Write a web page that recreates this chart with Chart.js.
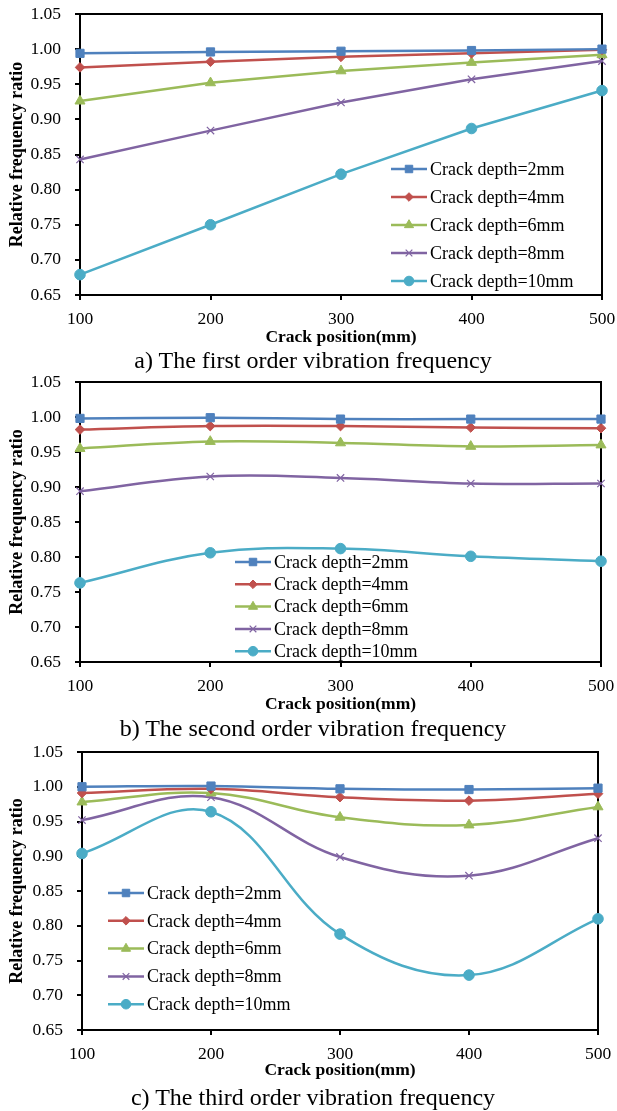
<!DOCTYPE html>
<html>
<head>
<meta charset="utf-8">
<script src="https://cdn.jsdelivr.net/npm/chart.js@4.4.1/dist/chart.umd.min.js"></script>
<style>
    body { margin: 0; background: #fff; width: 617px; height: 1111px; position: relative; overflow: hidden; font-family: 'Liberation Serif', 'Times New Roman', serif; }
    .box { position: absolute; left: 0; width: 617px; }
    .cap { position: absolute; left: 0; width: 626px; text-align: center; font-size: 24px; line-height: 1; color: #000; }
</style>
</head>
<body>
<div class="box" style="top:0px"><canvas id="chartA" width="617" height="348"></canvas></div>
<div class="cap" style="top:348px">a) The first order vibration frequency</div>
<div class="box" style="top:369px"><canvas id="chartB" width="617" height="346"></canvas></div>
<div class="cap" style="top:716px">b) The second order vibration frequency</div>
<div class="box" style="top:739px"><canvas id="chartC" width="617" height="342"></canvas></div>
<div class="cap" style="top:1085px">c) The third order vibration frequency</div>

<script>
// posiciones de la grieta (eje x) y marcas del eje y
const POSITIONS = ['100', '200', '300', '400', '500'];
const Y_TICKS = [0.65, 0.70, 0.75, 0.80, 0.85, 0.90, 0.95, 1.00, 1.05];
const DEPTHS = ['Crack depth=2mm', 'Crack depth=4mm', 'Crack depth=6mm', 'Crack depth=8mm', 'Crack depth=10mm'];

// una fila por profundidad (2, 4, 6, 8, 10 mm)
const FIRST_ORDER = [
    [0.994, 0.996, 0.997, 0.998, 1.000],
    [0.974, 0.982, 0.989, 0.994, 0.999],
    [0.926, 0.952, 0.969, 0.981, 0.992],
    [0.843, 0.884, 0.924, 0.957, 0.983],
    [0.679, 0.750, 0.822, 0.887, 0.941]
];
const SECOND_ORDER = [
    [0.998, 0.999, 0.997, 0.997, 0.997],
    [0.982, 0.987, 0.987, 0.985, 0.984],
    [0.955, 0.965, 0.963, 0.958, 0.960],
    [0.894, 0.915, 0.913, 0.905, 0.905],
    [0.763, 0.806, 0.812, 0.801, 0.794]
];
const THIRD_ORDER = [
    [1.000, 1.001, 0.997, 0.996, 0.998],
    [0.991, 0.997, 0.985, 0.980, 0.990],
    [0.978, 0.991, 0.956, 0.945, 0.971],
    [0.952, 0.985, 0.899, 0.872, 0.926],
    [0.904, 0.964, 0.788, 0.729, 0.810]
];

const COLORS = ['#4F81BD', '#C0504D', '#9BBB59', '#8064A2', '#4BACC6'];
const POINT_STYLES = ['rect', 'rectRot', 'triangle', 'crossRot', 'circle'];
const POINT_SIZES = [5.8, 4.8, 5.8, 5.2, 5.3];

const FONT = "'Liberation Serif', 'Times New Roman', serif";

// marco negro alrededor del area del grafico
const framePlugin = {
    id: 'frame',
    beforeDatasetsDraw(chart) {
        const { ctx, chartArea: a } = chart;
        ctx.save();
        ctx.strokeStyle = '#000';
        ctx.lineWidth = 2;
        ctx.strokeRect(a.left, a.top, a.right - a.left, a.bottom - a.top);
        ctx.restore();
    }
};

// leyenda dibujada dentro del area, como en Excel
const insideLegend = {
    id: 'insideLegend',
    afterDraw(chart, args, opts) {
        const ctx = chart.ctx;
        ctx.save();
        chart.data.datasets.forEach((ds, i) => {
            const y = opts.y + i * opts.gap;
            ctx.strokeStyle = ds.borderColor;
            ctx.lineWidth = 2.5;
            ctx.beginPath();
            ctx.moveTo(opts.x, y);
            ctx.lineTo(opts.x + 36, y);
            ctx.stroke();
            ctx.fillStyle = ds.pointBackgroundColor;
            ctx.strokeStyle = ds.pointBorderColor;
            ctx.lineWidth = ds.pointBorderWidth;
            Chart.helpers.drawPoint(ctx, {
                pointStyle: ds.pointStyle, radius: ds.pointRadius - 0.5,
                borderWidth: ds.pointBorderWidth, rotation: 0
            }, opts.x + 18, y);
            ctx.fillStyle = '#000';
            ctx.font = '18px ' + FONT;
            ctx.textBaseline = 'middle';
            ctx.textAlign = 'left';
            ctx.fillText(ds.label, opts.x + 39, y + 1);
        });
        ctx.restore();
    }
};

function makeChart(id, rows, cfg) {
    const datasets = rows.map((vals, i) => ({
        label: DEPTHS[i],
        data: vals,
        borderColor: COLORS[i],
        borderWidth: 2.5,
        pointStyle: POINT_STYLES[i],
        pointRadius: POINT_SIZES[i],
        pointBackgroundColor: COLORS[i],
        pointBorderColor: COLORS[i],
        pointBorderWidth: POINT_STYLES[i] === 'crossRot' ? 1.2 : 1,
        tension: cfg.smooth ? 0.38 : 0,
        clip: false
    }));

    new Chart(document.getElementById(id), {
        type: 'line',
        data: { labels: POSITIONS, datasets: datasets },
        plugins: [framePlugin, insideLegend],
        options: {
            responsive: false,
            animation: false,
            layout: { padding: { top: cfg.padTop, right: cfg.padRight, left: 0, bottom: 0 } },
            plugins: {
                legend: { display: false },
                tooltip: { enabled: false },
                insideLegend: cfg.legend
            },
            scales: {
                x: {
                    offset: false,
                    afterFit: (s) => { s.height = cfg.xHeight; s.paddingLeft = 0; s.paddingRight = 0; },
                    grid: { drawOnChartArea: false, drawTicks: true, tickLength: 5, color: '#000', lineWidth: 2 },
                    border: { color: '#000', width: 2 },
                    ticks: { color: '#000', font: { family: FONT, size: 17.5 }, padding: 9, maxRotation: 0 },
                    title: {
                        display: true, text: 'Crack position(mm)', color: '#000',
                        font: { family: FONT, size: 17.5, weight: 'bold' }, padding: 0
                    }
                },
                y: {
                    min: 0.65,
                    max: 1.05,
                    afterFit: (s) => { s.width = cfg.left; s.paddingTop = 0; s.paddingBottom = 0; },
                    afterBuildTicks: (s) => { s.ticks = Y_TICKS.map(v => ({ value: v })); },
                    grid: { drawOnChartArea: false, drawTicks: true, tickLength: 5, color: '#000', lineWidth: 2 },
                    border: { color: '#000', width: 2 },
                    ticks: { color: '#000', font: { family: FONT, size: 17.5 }, padding: 14, callback: v => v.toFixed(2) },
                    title: {
                        display: true, text: 'Relative frequency ratio', color: '#000',
                        font: { family: FONT, size: 18, weight: 'bold' }, padding: { top: 7, bottom: 0 }
                    }
                }
            }
        }
    });
}

makeChart('chartA', FIRST_ORDER, {
    smooth: false, padTop: 14, padRight: 15, left: 80, xHeight: 53,
    legend: { x: 391, y: 169, gap: 28 }
});
makeChart('chartB', SECOND_ORDER, {
    smooth: true, padTop: 13, padRight: 16, left: 80, xHeight: 53,
    legend: { x: 235, y: 193, gap: 22.3 }
});
makeChart('chartC', THIRD_ORDER, {
    smooth: true, padTop: 13, padRight: 19, left: 82, xHeight: 51,
    legend: { x: 108, y: 154, gap: 27.8 }
});
</script>
</body>
</html>
